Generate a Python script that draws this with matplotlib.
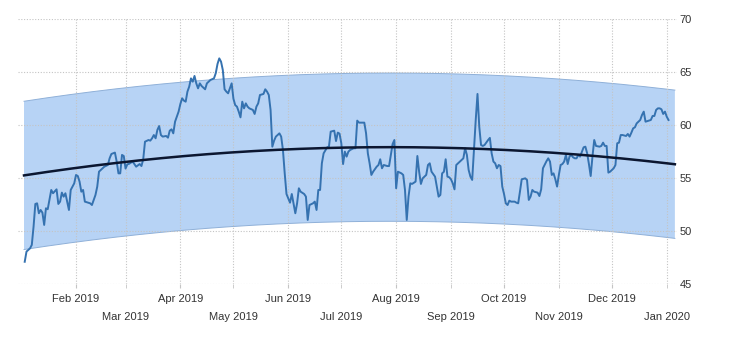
import numpy as np
import pandas as pd
import matplotlib
matplotlib.use('Agg')
import matplotlib.pyplot as plt
import matplotlib.dates as mdates

# days counted from 2019-01-01
days = [2, 3, 5, 6, 7, 8, 9, 10, 11, 12, 13, 14, 15, 17, 18, 20, 21, 22, 23, 24,
        25, 26, 27, 28, 29, 30, 31, 32, 33, 34, 35, 36, 38, 39, 40, 42, 43, 44, 46, 47,
        49, 50, 51, 53, 54, 55, 56, 57, 58, 59, 60, 61, 63, 64, 65, 67, 68, 69, 70, 72,
        73, 74, 75, 76, 77, 78, 79, 80, 82, 83, 84, 85, 86, 87, 89, 90, 91, 92, 93, 94,
        95, 96, 97, 98, 99, 100, 101, 102, 104, 105, 106, 107, 109, 110, 111, 112, 113, 114, 115, 116,
        117, 119, 120, 121, 122, 123, 124, 125, 126, 127, 128, 129, 131, 132, 133, 134, 135, 137, 138, 139,
        140, 141, 142, 143, 144, 146, 147, 148, 149, 150, 151, 152, 153, 155, 156, 157, 158, 160, 161, 162,
        163, 165, 166, 167, 168, 169, 170, 171, 173, 174, 175, 177, 178, 179, 180, 181, 182, 183, 184, 185,
        186, 188, 189, 190, 191, 192, 194, 195, 196, 197, 198, 199, 201, 202, 203, 204, 205, 207, 208, 209,
        210, 211, 212, 213, 215, 216, 217, 218, 219, 220, 221, 223, 224, 225, 226, 227, 229, 230, 231, 232,
        234, 235, 236, 237, 238, 239, 240, 241, 242, 243, 244, 245, 246, 247, 249, 250, 251, 252, 253, 254,
        255, 256, 257, 258, 259, 260, 261, 262, 264, 265, 266, 267, 268, 269, 270, 271, 272, 273, 274, 275,
        276, 277, 279, 280, 281, 282, 283, 285, 286, 287, 288, 289, 290, 292, 293, 294, 295, 297, 298, 299,
        300, 301, 302, 303, 304, 305, 306, 307, 308, 309, 310, 311, 312, 313, 314, 315, 316, 318, 319, 320,
        321, 322, 323, 324, 325, 327, 328, 329, 330, 331, 332, 333, 335, 336, 337, 338, 339, 340, 342, 343,
        344, 345, 346, 347, 348, 350, 351, 352, 353, 355, 356, 357, 358, 359, 360, 361, 362, 363, 364, 365,
        366]
values = [47.1, 48.06, 48.37, 48.69, 50.42, 52.56, 52.62, 51.68, 51.99, 51.74, 50.58, 52.15, 52.06, 53.88, 53.57, 53.94, 52.56, 52.78, 53.63, 53.25,
          53.57, 52.78, 51.99, 53.88, 54.19, 54.51, 55.3, 55.2, 54.67, 53.72, 53.88, 52.78, 52.68, 52.62, 52.46, 53.41, 54.19, 55.61, 55.93, 56.08,
          56.24, 56.87, 57.28, 57.41, 56.56, 55.45, 55.45, 57.19, 57.09, 55.9, 56.3, 56.35, 56.56, 56.33, 56.08, 56.33, 56.14, 56.78, 58.44, 58.6,
          58.54, 58.76, 59.07, 58.76, 59.55, 59.92, 59.07, 58.92, 58.98, 58.82, 59.48, 59.61, 59.23, 60.33, 61.28, 62.0, 62.54, 62.32, 62.22, 63.17,
          63.64, 64.42, 64.11, 64.65, 63.95, 63.48, 63.95, 63.7, 63.39, 63.95, 64.11, 64.27, 64.42, 64.9, 65.78, 66.31, 66.0, 65.21, 63.39, 63.17,
          63.01, 63.95, 62.5, 61.9, 61.75, 61.28, 60.74, 62.22, 61.59, 62.06, 61.75, 61.59, 61.44, 61.06, 61.75, 62.06, 62.85, 62.95, 63.39, 63.17,
          62.85, 61.44, 57.97, 58.54, 58.92, 59.23, 58.92, 57.66, 55.45, 53.5, 53.09, 52.68, 53.5, 51.68, 52.62, 54.04, 53.72, 53.5, 53.25, 51.05,
          52.46, 52.62, 52.78, 51.99, 53.88, 53.88, 56.4, 57.34, 57.91, 57.97, 59.39, 59.48, 58.5, 59.3, 59.2, 58.29, 56.33, 57.5, 57.03, 57.5,
          57.66, 57.82, 57.82, 60.43, 60.24, 60.24, 60.24, 59.23, 57.34, 56.4, 55.3, 55.61, 56.08, 56.24, 56.78, 55.93, 56.24, 56.14, 56.14, 57.19,
          58.22, 58.6, 54.04, 55.61, 55.45, 55.3, 53.88, 51.05, 53.25, 54.51, 54.45, 54.67, 57.09, 55.61, 54.45, 54.98, 55.3, 56.24, 56.4, 55.61,
          55.14, 54.2, 53.25, 53.41, 55.45, 55.6, 56.78, 55.14, 55.08, 54.89, 54.51, 53.94, 56.24, 56.4, 56.71, 56.87, 57.82, 57.19, 55.77, 55.14,
          54.83, 57.66, 60.49, 62.95, 59.86, 58.13, 58.04, 58.13, 58.6, 58.8, 57.34, 56.56, 56.4, 55.93, 56.24, 56.14, 54.2, 53.5, 52.62, 52.46,
          52.87, 52.78, 52.78, 52.68, 52.62, 53.72, 54.89, 54.98, 54.83, 52.94, 53.25, 53.88, 53.72, 53.63, 53.31, 53.94, 55.93, 56.6, 56.87, 56.56,
          55.3, 55.45, 54.9, 54.2, 55.3, 56.24, 56.33, 56.56, 57.19, 56.33, 57.03, 57.19, 56.97, 56.87, 56.87, 57.19, 57.03, 57.91, 57.97, 57.34,
          56.33, 55.2, 57.03, 58.6, 58.04, 57.97, 58.04, 58.35, 58.04, 58.04, 55.52, 55.61, 55.93, 56.24, 58.29, 58.35, 59.07, 59.07, 58.98, 59.17,
          58.92, 59.29, 59.7, 59.8, 60.17, 60.49, 60.96, 61.28, 60.33, 60.43, 60.49, 60.87, 60.87, 61.44, 61.59, 61.59, 61.5, 61.06, 61.28, 60.8,
          60.49]

major_ticks = ['2019-02-01', '2019-04-01', '2019-06-01', '2019-08-01', '2019-10-01', '2019-12-01']
minor_ticks = ['2019-03-01', '2019-05-01', '2019-07-01', '2019-09-01', '2019-11-01', '2020-01-01']
y_ticks = [45, 50, 55, 60, 65, 70]

base = pd.Timestamp('2019-01-01')
dates = base + pd.to_timedelta(days, unit='D')

# quadratic trend with a 2 sigma channel
coef = np.polyfit(days, values, 2)
trend_days = np.arange(1.6, 370.5, 1.0)
trend = np.polyval(coef, trend_days)
resid = np.array(values) - np.polyval(coef, days)
half_width = 2 * resid.std()
trend_dates = base + pd.to_timedelta(trend_days, unit='D')

plt.rcParams['font.family'] = ['Liberation Sans', 'DejaVu Sans']

fig = plt.figure(figsize=(7.3, 3.4), dpi=100)
ax = fig.add_axes([18 / 730, 1 - 284 / 340, 659 / 730, 264.7 / 340])

ax.fill_between(trend_dates, trend - half_width, trend + half_width,
                facecolor='#b7d3f5', edgecolor='none', zorder=1)
ax.plot(trend_dates, trend + half_width, color='#8fb0d8', lw=0.7, zorder=1.2)
ax.plot(trend_dates, trend - half_width, color='#8fb0d8', lw=0.7, zorder=1.2)
ax.plot(dates, values, color='#3572b0', lw=1.4, zorder=3)
ax.plot(trend_dates, trend, color='#0b1630', lw=1.8, zorder=4)

ax.set_xlim(base - pd.Timedelta(days=1.8), base + pd.Timedelta(days=370.8))
ax.set_ylim(45, 70)

ax.set_xticks(pd.to_datetime(major_ticks))
ax.set_xticks(pd.to_datetime(minor_ticks), minor=True)
ax.xaxis.set_major_formatter(mdates.DateFormatter('%b %Y'))
ax.xaxis.set_minor_formatter(mdates.DateFormatter('%b %Y'))
ax.set_yticks(y_ticks)
ax.yaxis.tick_right()

ax.set_axisbelow('line')
ax.grid(True, which='both', axis='x', color='#c4c4c4', lw=0.8, linestyle=(0, (1, 1.5)))
ax.grid(True, which='major', axis='y', color='#c4c4c4', lw=0.8, linestyle=(0, (1, 1.5)))

ax.tick_params(axis='x', which='major', length=3, color='#c4c4c4', pad=4, labelsize=8, labelcolor='#333333')
ax.tick_params(axis='x', which='minor', length=3, color='#c4c4c4', pad=17, labelsize=8, labelcolor='#333333')
ax.tick_params(axis='y', length=0, pad=2, labelsize=8, labelcolor='#333333')

for spine in ax.spines.values():
    spine.set_visible(False)

fig.savefig('out.png', dpi=100)
